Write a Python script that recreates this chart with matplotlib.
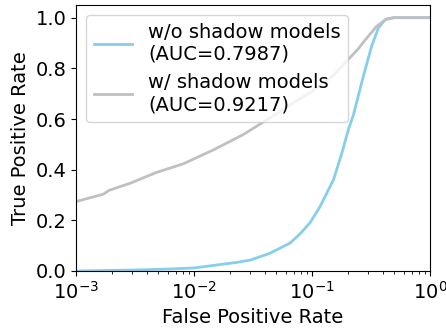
import matplotlib
matplotlib.use("Agg")
import matplotlib.pyplot as plt

# Data
blue_label = "w/o shadow models\n(AUC=0.7987)"
gray_label = "w/ shadow models\n(AUC=0.9217)"

blue_fpr = [0.0005, 0.001, 0.0032, 0.0063, 0.01, 0.023, 0.030, 0.044, 0.065, 0.079, 0.096,
            0.117, 0.152, 0.179, 0.203, 0.224, 0.272, 0.32, 0.365, 0.416, 0.49, 1.0]
blue_tpr = [0.0, 0.0, 0.004, 0.008, 0.012, 0.034, 0.043, 0.070, 0.110, 0.146, 0.19,
            0.254, 0.36, 0.465, 0.557, 0.615, 0.768, 0.887, 0.959, 0.992, 1.0, 1.0]

gray_fpr = [0.0009, 0.001, 0.0017, 0.0019, 0.0029, 0.0048, 0.0081, 0.0146, 0.026, 0.044,
            0.07, 0.1, 0.15, 0.19, 0.247, 0.272, 0.353, 0.43, 0.5, 1.0]
gray_tpr = [0.27, 0.274, 0.303, 0.318, 0.347, 0.389, 0.423, 0.478, 0.538, 0.604,
            0.665, 0.709, 0.77, 0.821, 0.877, 0.903, 0.966, 0.995, 1.0, 1.0]

x_label = "False Positive Rate"
y_label = "True Positive Rate"

plt.rcParams['font.family'] = ['DejaVu Sans']
fig = plt.figure(figsize=(4.46, 3.33), dpi=100)
ax = fig.add_subplot(111)
fig.subplots_adjust(left=76/446, right=430/446, top=1-5/333, bottom=1-271/333)

ax.plot(blue_fpr, blue_tpr, color='#87CEEB', lw=2, label=blue_label)
ax.plot(gray_fpr, gray_tpr, color='#C0C0C0', lw=2, label=gray_label)
ax.set_xscale('log')
ax.set_xlim(1e-3, 1)
ax.set_ylim(0, 1.05)
ax.set_yticks([0, 0.2, 0.4, 0.6, 0.8, 1.0])
ax.tick_params(labelsize=14)
ax.set_xlabel(x_label, fontsize=14)
ax.set_ylabel(y_label, fontsize=14)
ax.legend(loc='upper left', fontsize=14)

fig.savefig("out.png", dpi=100)
